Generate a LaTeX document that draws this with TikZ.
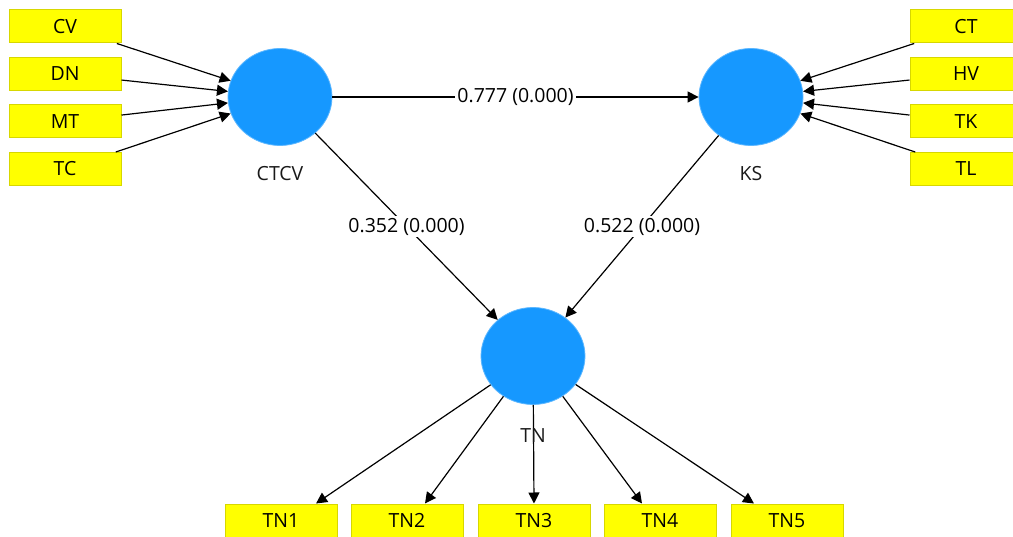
\documentclass[tikz,border=0pt]{standalone}
\usepackage{fontspec}
\setmainfont{Open Sans}
\usetikzlibrary{arrows.meta,shapes.geometric}
\definecolor{lvblue}{RGB}{22,152,255}
\definecolor{boxyel}{RGB}{255,255,0}
\definecolor{boxedge}{RGB}{215,215,0}
\tikzset{
  ind/.style={rectangle, fill=boxyel, draw=boxedge, line width=1pt, minimum width=112pt, minimum height=33pt, inner sep=0pt, font=\fontsize{19.5}{22}\selectfont},
  lv/.style={ellipse, fill=lvblue, draw=lvblue!70!white, line width=0.8pt, minimum width=104pt, minimum height=97pt, inner sep=0pt},
  lvname/.style={font=\fontsize{19.5}{22}\selectfont, text=black!90},
  conn/.style={line width=1.2pt, -{Triangle[length=11pt,width=11pt]}},
  coef/.style={fill=white, inner sep=2pt, font=\fontsize{19.5}{22}\selectfont}
}
\begin{document}
\begin{tikzpicture}[x=1pt,y=-1pt]
\useasboundingbox[fill=white] (0,0) rectangle (1013,537);
% latent variables
\node[lv] (ctcv) at (280,97) {};
\node[lv] (ks) at (751,97) {};
\node[lv] (tn) at (533,356) {};
\node[lvname] (ctcvl) at (280,174) {CTCV};
\node[lvname] (ksl) at (751,174) {KS};
% left indicators
\node[ind] (cv) at (65,26.5) {CV};
\node[ind] (dn) at (65,74) {DN};
\node[ind] (mt) at (65,121.5) {MT};
\node[ind] (tc) at (65,169) {TC};
% right indicators
\node[ind] (ct) at (966,26.5) {CT};
\node[ind] (hv) at (966,74) {HV};
\node[ind] (tk) at (966,121.5) {TK};
\node[ind] (tl) at (966,169) {TL};
% bottom indicators
\node[ind] (tn1) at (281,520.5) {TN1};
\node[ind] (tn2) at (407,520.5) {TN2};
\node[ind] (tn3) at (534,520.5) {TN3};
\node[ind] (tn4) at (660,520.5) {TN4};
\node[ind] (tn5) at (787,520.5) {TN5};
% arrow tip coordinates on top of bottom boxes
\coordinate (a1) at (316,503.5);
\coordinate (a2) at (425,503.5);
\coordinate (a3) at (534,503.5);
\coordinate (a4) at (642,503.5);
\coordinate (a5) at (754,503.5);
% indicator arrows
\foreach \b in {cv,dn,mt,tc} \draw[conn] (\b) -- (ctcv);
\foreach \b in {ct,hv,tk,tl} \draw[conn] (\b) -- (ks);
\foreach \i in {1,...,5} \draw[conn] (tn) -- (a\i);
% TN label drawn over line
\node[lvname] (tnl) at (533,436) {TN};
% structural paths
\draw[conn] (ctcv) -- node[coef] {0.777 (0.000)} (ks);
\draw[conn] (ctcv) -- node[coef] {0.352 (0.000)} (tn);
\draw[conn] (ks) -- node[coef] {0.522 (0.000)} (tn);
\end{tikzpicture}
\end{document}
